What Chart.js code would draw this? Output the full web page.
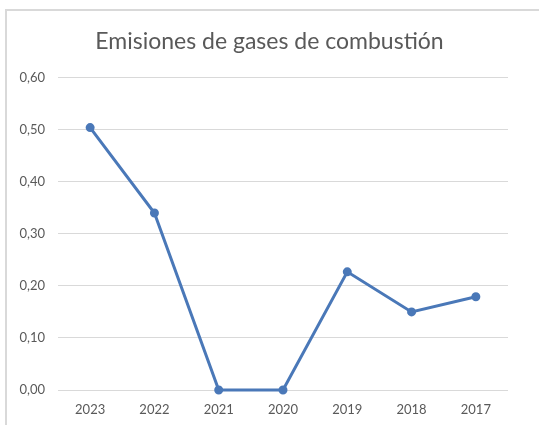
<!DOCTYPE html>
<html>
<head>
<meta charset="utf-8">
<script src="https://cdn.jsdelivr.net/npm/chart.js@4"></script>
<style>
html,body{margin:0;padding:0;background:#fff;}
#wrap{position:relative;width:539px;height:425px;}
</style>
</head>
<body>
<div id="wrap"><canvas id="c" width="539" height="425"></canvas></div>
<script>
const chartTitle = "Emisiones de gases de combustión";
const categories = ["2023","2022","2021","2020","2019","2018","2017"];
const emisiones = [0.504, 0.340, 0.0, 0.0, 0.227, 0.150, 0.179];
const yTicks = [0, 0.1, 0.2, 0.3, 0.4, 0.5, 0.6];

const frame = {
  id: 'frame',
  beforeDraw(chart) {
    const ctx = chart.ctx;
    ctx.save();
    ctx.fillStyle = '#fff';
    ctx.fillRect(0, 0, chart.width, chart.height);
    ctx.strokeStyle = '#d9d9d9';
    ctx.lineWidth = 2;
    ctx.beginPath();
    ctx.moveTo(6, chart.height);
    ctx.lineTo(6, 10);
    ctx.lineTo(chart.width, 10);
    ctx.stroke();
    ctx.restore();
  }
};

new Chart(document.getElementById('c'), {
  type: 'line',
  data: {
    labels: categories,
    datasets: [{
      data: emisiones,
      borderColor: '#4a78b8',
      backgroundColor: '#4a78b8',
      borderWidth: 3,
      pointRadius: 3,
      pointHoverRadius: 3,
      tension: 0,
      clip: false
    }]
  },
  options: {
    responsive: false,
    animation: false,
    layout: { padding: 0 },
    plugins: {
      legend: { display: false },
      tooltip: { enabled: false },
      title: {
        display: true,
        text: chartTitle,
        color: '#595959',
        font: { family: 'Lato', size: 23, weight: 'normal' },
        padding: { top: 28, bottom: 22 }
      }
    },
    scales: {
      x: {
        offset: true,
        grid: { display: false, drawTicks: false },
        border: { display: false },
        ticks: { color: '#595959', font: { family: 'Lato', size: 13 }, padding: 12, maxRotation: 0 },
        afterFit(s) { s.height = 35; }
      },
      y: {
        min: 0, max: 0.6,
        afterBuildTicks(s) { s.ticks = yTicks.map(v => ({ value: v })); },
        grid: { color: '#d9d9d9', lineWidth: 1, drawTicks: false },
        border: { display: false },
        ticks: {
          color: '#595959',
          font: { family: 'Lato', size: 13 },
          padding: 13,
          callback: v => v.toFixed(2).replace('.', ',')
        },
        afterFit(s) { s.width = 58; }
      },
      yRight: {
        position: 'right',
        min: 0, max: 0.6,
        grid: { display: false, drawTicks: false },
        border: { display: false },
        ticks: { display: false },
        afterFit(s) { s.width = 31; }
      }
    }
  },
  plugins: [frame]
});
</script>
</body>
</html>
